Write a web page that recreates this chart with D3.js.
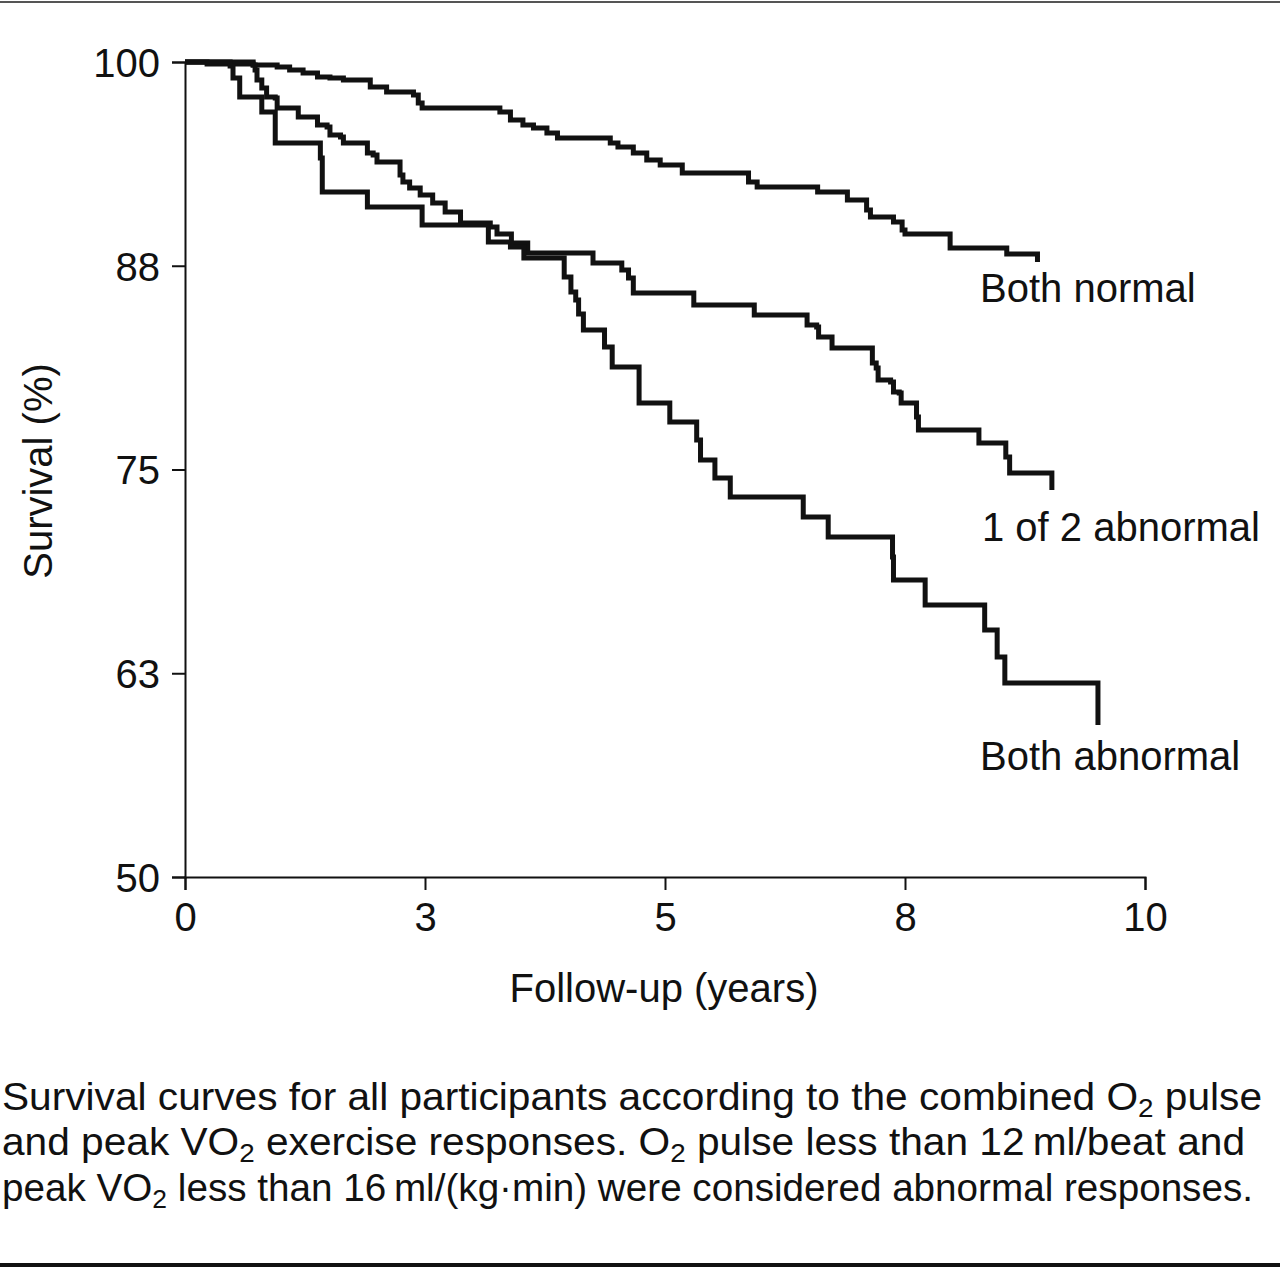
<!DOCTYPE html>
<html>
<head>
<meta charset="utf-8">
<script src="https://cdn.jsdelivr.net/npm/d3@7"></script>
<style>
  body { margin: 0; background: #fff; }
  svg { display: block; font-family: "Liberation Sans", Arial, Helvetica, sans-serif; }
</style>
</head>
<body>
<script>
// Kaplan-Meier steps: [follow-up years, survival % after the event]
var bothNormal = [
  [0, 100], [0.23, 99.88], [0.71, 99.82], [0.96, 99.69], [1.09, 99.51], [1.23, 99.33],
  [1.38, 99.08], [1.51, 99.02], [1.65, 98.90], [1.93, 98.47], [2.10, 98.16], [2.38, 97.98],
  [2.43, 97.48], [2.47, 97.18], [3.28, 96.93], [3.39, 96.44], [3.52, 96.13], [3.63, 95.95],
  [3.77, 95.64], [3.88, 95.34], [4.43, 95.03], [4.51, 94.79], [4.67, 94.42], [4.81, 93.99],
  [4.95, 93.68], [5.18, 93.19], [5.87, 92.64], [5.96, 92.33], [6.59, 92.02], [6.90, 91.53],
  [7.10, 90.92], [7.14, 90.49], [7.38, 90.18], [7.47, 89.69], [7.50, 89.45], [7.97, 88.59],
  [8.56, 88.22], [8.88, 87.73]
];
var oneAbnormal = [
  [0, 100], [0.71, 99.82], [0.73, 99.51], [0.75, 98.90], [0.80, 98.41], [0.85, 97.85],
  [0.94, 97.79], [0.96, 97.18], [1.18, 96.63], [1.38, 96.13], [1.48, 96.01], [1.51, 95.52],
  [1.62, 95.40], [1.65, 95.03], [1.90, 94.42], [1.96, 94.29], [2.00, 93.87], [2.24, 93.07],
  [2.27, 92.64], [2.34, 92.27], [2.45, 91.84], [2.58, 91.35], [2.71, 90.80], [2.87, 90.12],
  [3.18, 89.88], [3.25, 89.45], [3.40, 88.90], [3.57, 88.28], [4.25, 87.67], [4.55, 87.24],
  [4.62, 86.75], [4.67, 85.83], [5.30, 85.09], [5.93, 84.48], [6.48, 83.87], [6.58, 83.74],
  [6.60, 83.13], [6.74, 82.45], [7.16, 81.53], [7.20, 81.23], [7.22, 80.49], [7.35, 80.37],
  [7.38, 79.75], [7.44, 79.69], [7.46, 79.08], [7.62, 78.22], [7.64, 77.42], [8.27, 76.63],
  [8.55, 75.77], [8.59, 74.79], [9.03, 73.74]
];
var bothAbnormal = [
  [0, 100], [0.47, 99.75], [0.50, 99.02], [0.57, 97.85], [0.80, 96.93], [0.94, 95.03],
  [1.41, 94.11], [1.43, 92.02], [1.90, 91.10], [2.47, 90.00], [3.16, 88.96], [3.39, 88.65],
  [3.53, 87.98], [3.95, 86.81], [4.02, 85.89], [4.07, 85.40], [4.10, 84.54], [4.15, 83.56],
  [4.37, 82.52], [4.45, 81.29], [4.73, 79.08], [5.05, 77.91], [5.33, 76.81], [5.37, 75.58],
  [5.52, 74.48], [5.68, 73.31], [6.44, 72.09], [6.70, 70.86], [7.37, 69.63], [7.38, 68.22],
  [7.71, 66.69], [8.33, 65.15], [8.46, 63.50], [8.54, 61.90], [9.51, 59.33]
];
var seriesNames = ["Both normal", "1 of 2 abnormal", "Both abnormal"];
var xTickValues = [0, 2.5, 5, 7.5, 10];
var xTickLabels = ["0", "3", "5", "8", "10"];
var yTickValues = [50, 62.5, 75, 87.5, 100];
var yTickLabels = ["50", "63", "75", "88", "100"];

var width = 1280, height = 1269;
var svg = d3.select("body").append("svg")
  .attr("width", width)
  .attr("height", height);

var x = d3.scaleLinear().domain([0, 10]).range([185, 1145]);
var y = d3.scaleLinear().domain([50, 100]).range([877, 62]);

// rules above and below the figure
svg.append("line").attr("x1", 0).attr("x2", width).attr("y1", 2).attr("y2", 2)
  .attr("stroke", "#555").attr("stroke-width", 2);
svg.append("line").attr("x1", 0).attr("x2", width).attr("y1", 1265).attr("y2", 1265)
  .attr("stroke", "#111").attr("stroke-width", 4);

// axes
var xAxis = svg.append("g")
  .attr("transform", "translate(0," + y(50) + ")")
  .call(d3.axisBottom(x).tickValues(xTickValues)
    .tickFormat(function (d, i) { return xTickLabels[i]; })
    .tickSize(13).tickPadding(13));
var yAxis = svg.append("g")
  .attr("transform", "translate(" + x(0) + ",0)")
  .call(d3.axisLeft(y).tickValues(yTickValues)
    .tickFormat(function (d, i) { return yTickLabels[i]; })
    .tickSize(13).tickPadding(12));

[xAxis, yAxis].forEach(function (g) {
  g.select(".domain").attr("stroke", "#111").attr("stroke-width", 2);
  g.selectAll(".tick line").attr("stroke", "#111").attr("stroke-width", 2);
  g.selectAll(".tick text").attr("fill", "#111")
    .attr("font-size", "40px").attr("font-family", null);
});
yAxis.selectAll(".tick text").attr("dy", "0.36em");

// axis titles
svg.append("text")
  .attr("x", 664).attr("y", 1002)
  .attr("text-anchor", "middle")
  .attr("font-size", "40px").attr("fill", "#111")
  .text("Follow-up (years)");
svg.append("text")
  .attr("transform", "translate(52,471) rotate(-90)")
  .attr("text-anchor", "middle")
  .attr("font-size", "40px").attr("fill", "#111")
  .text("Survival (%)");

// survival curves
var line = d3.line()
  .x(function (d) { return x(d[0]); })
  .y(function (d) { return y(d[1]); })
  .curve(d3.curveStepAfter);

svg.selectAll("path.km")
  .data([bothNormal, oneAbnormal, bothAbnormal])
  .enter().append("path")
  .attr("class", "km")
  .attr("fill", "none")
  .attr("stroke", "#111")
  .attr("stroke-width", 5)
  .attr("stroke-linejoin", "miter")
  .attr("d", line);

// curve labels
var labelPos = [[980, 302], [982, 541], [980, 770]];
svg.selectAll("text.lab")
  .data(seriesNames)
  .enter().append("text")
  .attr("class", "lab")
  .attr("x", function (d, i) { return labelPos[i][0]; })
  .attr("y", function (d, i) { return labelPos[i][1]; })
  .attr("font-size", "40px").attr("fill", "#111")
  .text(function (d) { return d; });

// caption, justified lines with subscripts
var captionLines = [
  [["Survival curves for all participants according to the combined O"], ["2", true], [" pulse"]],
  [["and peak VO"], ["2", true], [" exercise responses. O"], ["2", true], [" pulse less than 12\u2009ml/beat and"]],
  [["peak VO"], ["2", true], [" less than 16\u2009ml/(kg\u00b7min) were considered abnormal responses."]]
];
var captionWidths = [1260, 1243, 1251];
var captionBase = [1110, 1155, 1201];

captionLines.forEach(function (parts, i) {
  var t = svg.append("text")
    .attr("x", 2).attr("y", captionBase[i])
    .attr("font-size", "38px").attr("fill", "#111")
    .attr("textLength", captionWidths[i])
    .attr("lengthAdjust", "spacingAndGlyphs");
  parts.forEach(function (p, j) {
    var ts = t.append("tspan").text(p[0]);
    if (p[1]) ts.attr("font-size", "26px").attr("dy", 7);
    else if (j > 0 && parts[j - 1][1]) ts.attr("dy", -7);
  });
});
</script>
</body>
</html>
